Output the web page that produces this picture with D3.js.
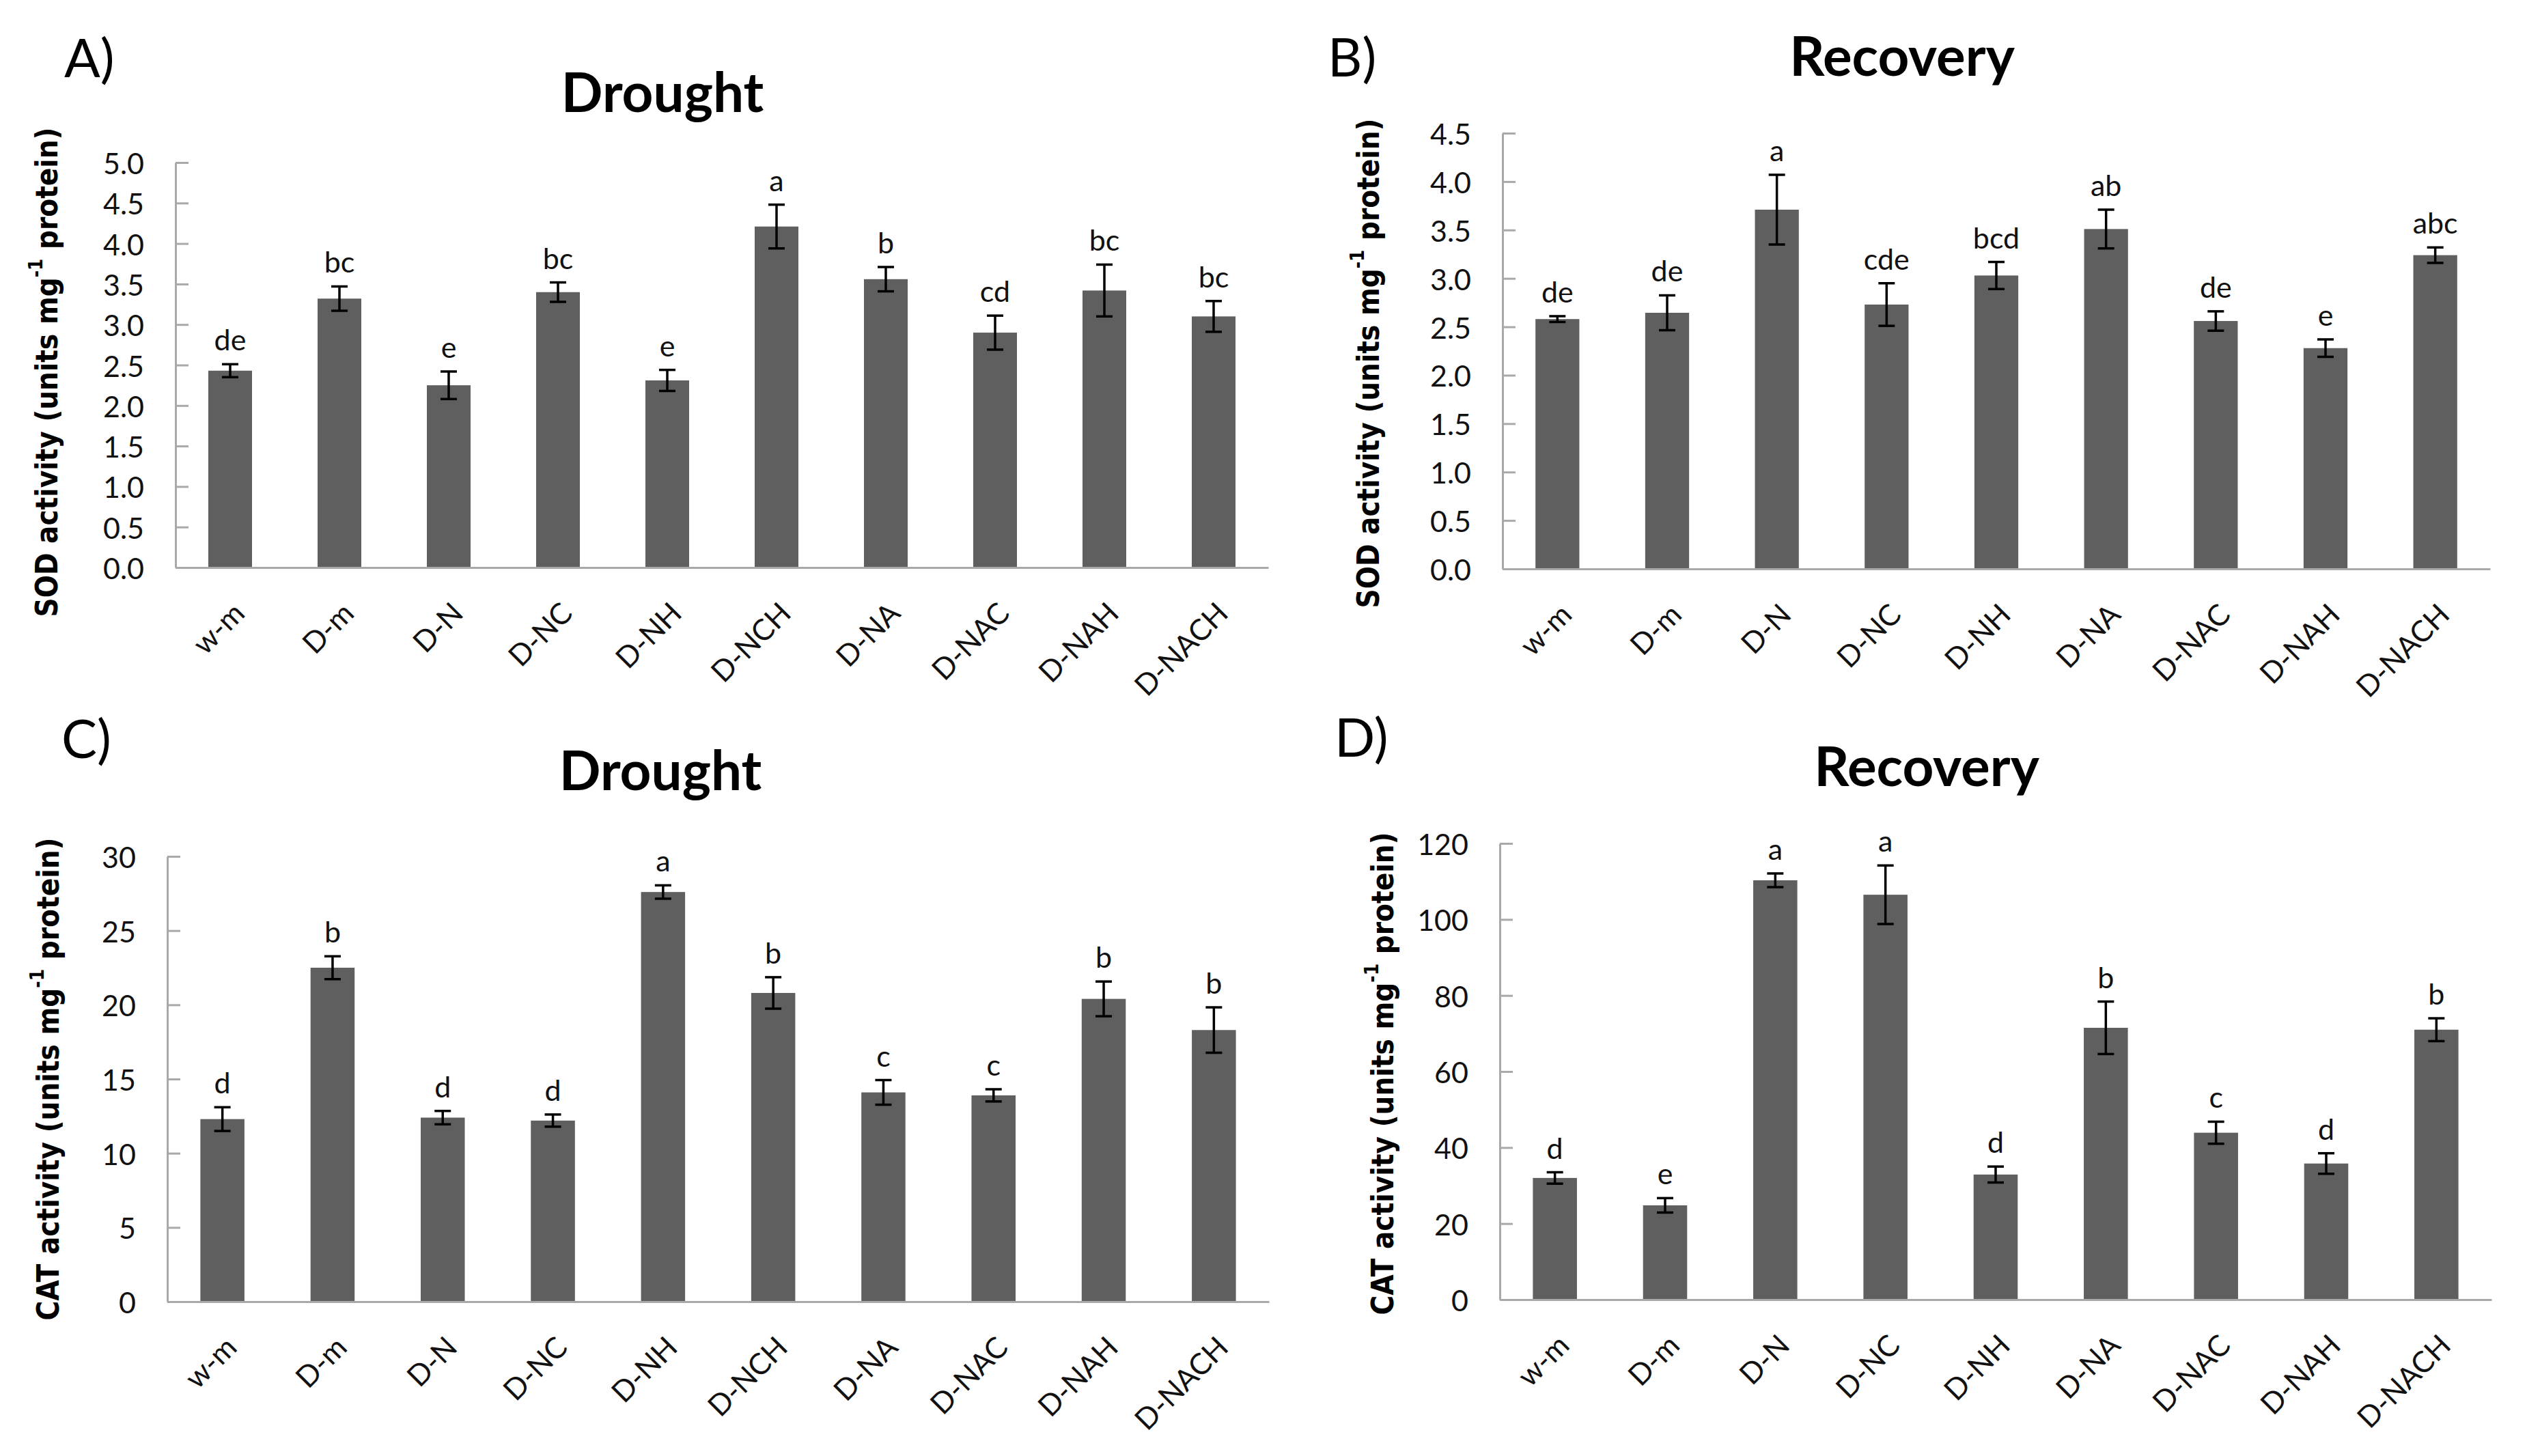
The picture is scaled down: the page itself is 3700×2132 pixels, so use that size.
<!DOCTYPE html>
<html>
<head>
<meta charset="utf-8">
<script src="https://cdn.jsdelivr.net/npm/d3@7"></script>
<style>
  html, body { margin: 0; padding: 0; background: #fff; }
  svg { display: block; }
</style>
</head>
<body>
<svg id="fig" width="3700" height="2132"></svg>
<script>
// categories
const catsLong = ["w-m", "D-m", "D-N", "D-NC", "D-NH", "D-NCH", "D-NA", "D-NAC", "D-NAH", "D-NACH"];
const catsShort = ["w-m", "D-m", "D-N", "D-NC", "D-NH", "D-NA", "D-NAC", "D-NAH", "D-NACH"];

// A) SOD, drought
const sodDroughtMean = [2.43, 3.32, 2.25, 3.40, 2.31, 4.21, 3.56, 2.90, 3.42, 3.10];
const sodDroughtErr = [0.08, 0.15, 0.17, 0.12, 0.13, 0.27, 0.15, 0.21, 0.32, 0.19];
const sodDroughtLetters = ["de", "bc", "e", "bc", "e", "a", "b", "cd", "bc", "bc"];

// B) SOD, recovery
const sodRecoveryMean = [2.58, 2.645, 3.71, 2.73, 3.03, 3.51, 2.56, 2.28, 3.24];
const sodRecoveryErr = [0.03, 0.18, 0.36, 0.22, 0.14, 0.20, 0.10, 0.09, 0.08];
const sodRecoveryLetters = ["de", "de", "a", "cde", "bcd", "ab", "de", "e", "abc"];

// C) CAT, drought
const catDroughtMean = [12.3, 22.5, 12.4, 12.2, 27.6, 20.8, 14.1, 13.9, 20.4, 18.3];
const catDroughtErr = [0.8, 0.77, 0.45, 0.41, 0.45, 1.06, 0.83, 0.41, 1.17, 1.53];
const catDroughtLetters = ["d", "b", "d", "d", "a", "b", "c", "c", "b", "b"];

// D) CAT, recovery
const catRecoveryMean = [32.0, 24.8, 110.3, 106.5, 32.9, 71.5, 43.9, 35.8, 71.0];
const catRecoveryErr = [1.5, 1.9, 1.8, 7.7, 2.1, 6.9, 2.9, 2.7, 3.0];
const catRecoveryLetters = ["d", "e", "a", "a", "d", "b", "c", "d", "b"];

// y ticks
const sodDroughtTicks = d3.range(0, 5.01, 0.5);
const sodRecoveryTicks = d3.range(0, 4.51, 0.5);
const catDroughtTicks = d3.range(0, 30.1, 5);
const catRecoveryTicks = d3.range(0, 120.1, 20);

const panels = [
  { tag: "A)", title: "Drought", enzyme: "SOD", cats: catsLong, mean: sodDroughtMean, err: sodDroughtErr,
    letters: sodDroughtLetters, ticks: sodDroughtTicks, fmt: d3.format(".1f"),
    x0: 257, x1: 1857, yTop: 238, yBase: 831, titleX: 970, titleY: 164, tagX: 94, tagY: 113,
    labX: 68, labY: 545, labLen: 717 },
  { tag: "B)", title: "Recovery", enzyme: "SOD", cats: catsShort, mean: sodRecoveryMean, err: sodRecoveryErr,
    letters: sodRecoveryLetters, ticks: sodRecoveryTicks, fmt: d3.format(".1f"),
    x0: 2200, x1: 3646, yTop: 195, yBase: 833, titleX: 2785, titleY: 111, tagX: 1944, tagY: 112,
    labX: 2003, labY: 532, labLen: 717 },
  { tag: "C)", title: "Drought", enzyme: "CAT", cats: catsLong, mean: catDroughtMean, err: catDroughtErr,
    letters: catDroughtLetters, ticks: catDroughtTicks, fmt: d3.format("d"),
    x0: 245, x1: 1858, yTop: 1254, yBase: 1906, titleX: 967, titleY: 1157, tagX: 90, tagY: 1110,
    labX: 70, labY: 1580, labLen: 707 },
  { tag: "D)", title: "Recovery", enzyme: "CAT", cats: catsShort, mean: catRecoveryMean, err: catRecoveryErr,
    letters: catRecoveryLetters, ticks: catRecoveryTicks, fmt: d3.format("d"),
    x0: 2196, x1: 3648, yTop: 1235, yBase: 1903, titleX: 2821, titleY: 1151, tagX: 1954, tagY: 1108,
    labX: 2024, labY: 1572, labLen: 707 }
];

const barColor = "#5f5f5f";
const axisColor = "#a9a9a9";
const textFont = "Lato, 'Open Sans', sans-serif";

const svg = d3.select("#fig");

panels.forEach(p => {
  const g = svg.append("g");
  const yMax = p.ticks[p.ticks.length - 1];

  const x = d3.scaleBand().domain(p.cats).range([p.x0, p.x1]).paddingInner(0.6).paddingOuter(0.3);
  const y = d3.scaleLinear().domain([0, yMax]).range([p.yBase, p.yTop]);

  // panel tag and title
  g.append("text").attr("x", p.tagX).attr("y", p.tagY)
    .attr("font-family", textFont).attr("font-size", 78).attr("fill", "#000").text(p.tag);
  g.append("text").attr("x", p.titleX).attr("y", p.titleY).attr("text-anchor", "middle")
    .attr("font-family", textFont).attr("font-weight", "bold").attr("font-size", 80).attr("fill", "#000")
    .text(p.title);

  // y axis label, stretched to the length it has in the figure
  const lab = g.append("text")
    .attr("transform", `translate(${p.labX},${p.labY}) rotate(-90)`)
    .attr("text-anchor", "middle").attr("dominant-baseline", "central")
    .attr("font-family", "'DejaVu Sans', Verdana, sans-serif").attr("font-weight", "bold")
    .attr("font-size", 44).attr("fill", "#000")
    .attr("textLength", p.labLen).attr("lengthAdjust", "spacingAndGlyphs");
  lab.append("tspan").text(`${p.enzyme} activity (units mg`);
  lab.append("tspan").attr("font-size", 28).attr("dy", -16).text("-1");
  lab.append("tspan").attr("dy", 16).text(" protein)");

  const data = p.cats.map((c, i) => ({ c, v: p.mean[i], e: p.err[i], l: p.letters[i] }));
  const cx = d => x(d.c) + x.bandwidth() / 2;

  // bars
  g.append("g").selectAll("rect")
    .data(data)
    .join("rect")
    .attr("x", d => x(d.c))
    .attr("width", x.bandwidth())
    .attr("y", d => y(d.v))
    .attr("height", d => y(0) - y(d.v))
    .attr("fill", barColor);

  // y axis
  const yAxis = g.append("g").attr("transform", `translate(${p.x0},0)`)
    .call(d3.axisLeft(y).tickValues(p.ticks).tickFormat(p.fmt).tickSizeInner(-19).tickSizeOuter(0).tickPadding(46));
  yAxis.select(".domain").attr("stroke", axisColor).attr("stroke-width", 3);
  yAxis.selectAll(".tick line").attr("stroke", axisColor).attr("stroke-width", 3);
  yAxis.selectAll(".tick text").attr("font-family", textFont).attr("font-size", 43).attr("fill", "#111")
    .attr("dy", null).attr("dominant-baseline", "central");

  // x axis
  const xAxis = g.append("g").attr("transform", `translate(0,${p.yBase})`)
    .call(d3.axisBottom(x).tickSize(0).tickSizeOuter(0));
  xAxis.select(".domain").attr("stroke", axisColor).attr("stroke-width", 3);
  xAxis.selectAll(".tick text")
    .attr("x", 0).attr("y", 0).attr("dy", null)
    .attr("transform", "translate(12,58) rotate(-45)")
    .attr("text-anchor", "end").attr("dominant-baseline", "central")
    .attr("font-family", textFont).attr("font-size", 43).attr("fill", "#111");

  // error bars
  const eb = g.append("g").attr("stroke", "#000").attr("stroke-width", 3.5);
  eb.selectAll("line.stem").data(data).join("line").attr("class", "stem")
    .attr("x1", cx).attr("x2", cx).attr("y1", d => y(d.v - d.e)).attr("y2", d => y(d.v + d.e));
  eb.selectAll("line.capTop").data(data).join("line").attr("class", "capTop")
    .attr("x1", d => cx(d) - 12).attr("x2", d => cx(d) + 12)
    .attr("y1", d => y(d.v + d.e)).attr("y2", d => y(d.v + d.e));
  eb.selectAll("line.capBot").data(data).join("line").attr("class", "capBot")
    .attr("x1", d => cx(d) - 12).attr("x2", d => cx(d) + 12)
    .attr("y1", d => y(d.v - d.e)).attr("y2", d => y(d.v - d.e));

  // significance letters
  g.append("g").selectAll("text").data(data).join("text")
    .attr("x", cx).attr("y", d => y(d.v + d.e) - 20)
    .attr("text-anchor", "middle")
    .attr("font-family", textFont).attr("font-size", 43).attr("fill", "#111")
    .text(d => d.l);
});
</script>
</body>
</html>
